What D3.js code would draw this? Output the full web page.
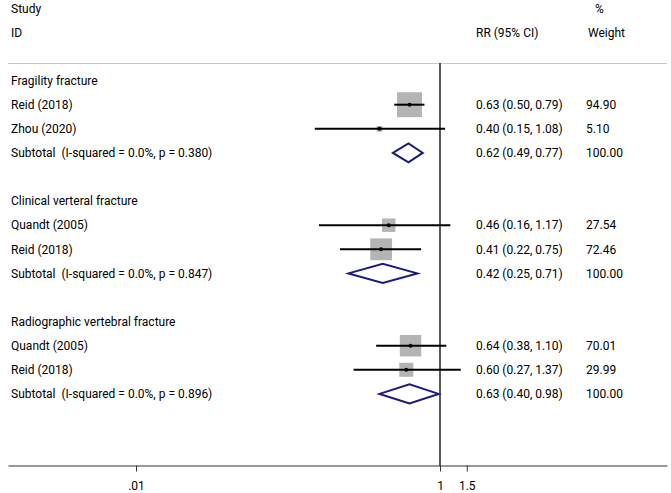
<!DOCTYPE html>
<html>
<head>
<meta charset="utf-8">
<script src="https://cdn.jsdelivr.net/npm/d3@7"></script>
<style>
  body { margin: 0; background: #fff; }
  text { font-family: Roboto, "Liberation Sans", sans-serif; font-size: 12px; fill: #000; }
</style>
</head>
<body>
<div id="chart"></div>
<script>
// forest plot data
var groups = ["Fragility fracture", "Clinical verteral fracture", "Radiographic vertebral fracture"];
var studyNames = ["Reid (2018)", "Zhou (2020)", "Quandt (2005)", "Reid (2018)", "Quandt (2005)", "Reid (2018)"];
var studyGroup = [0, 0, 1, 1, 2, 2];
var studyRR = [0.63, 0.40, 0.46, 0.41, 0.64, 0.60];
var studyLow = [0.50, 0.15, 0.16, 0.22, 0.38, 0.27];
var studyHigh = [0.79, 1.08, 1.17, 0.75, 1.10, 1.37];
var studyWeight = ["94.90", "5.10", "27.54", "72.46", "70.01", "29.99"];

var subRR = [0.62, 0.42, 0.63];
var subLow = [0.49, 0.25, 0.40];
var subHigh = [0.77, 0.71, 0.98];
var subI2 = ["0.0%", "0.0%", "0.0%"];
var subP = ["0.380", "0.847", "0.896"];

var tickValues = [0.01, 1, 1.5];
var tickLabels = [".01", "1", "1.5"];

var width = 671, height = 493;

var svg = d3.select("#chart").append("svg")
  .attr("width", width)
  .attr("height", height);

// log scale: 1 sits on the no-effect line, .01 far to the left
var x = d3.scaleLog().domain([0.01, 1]).range([136, 440]);
x.domain([x.invert(8), x.invert(667)]).range([8, 667]);

// row positions
var row = d3.scaleLinear().domain([0, 1]).range([8.3, 32.4]);
var boxSize = d3.scaleSqrt().domain([0, 100]).range([0, 25.6]);

// build the row list (heading, studies, subtotal for every group)
var rows = [];
var r = 3;
groups.forEach(function(g, gi) {
  rows.push({type: "head", label: g, row: r});
  r++;
  studyNames.forEach(function(name, i) {
    if (studyGroup[i] != gi) return;
    rows.push({type: "study", label: name, row: r, rr: studyRR[i], lo: studyLow[i], hi: studyHigh[i], w: studyWeight[i]});
    r++;
  });
  rows.push({type: "sub", label: "Subtotal\u00a0 (I-squared = " + subI2[gi] + ", p = " + subP[gi] + ")", row: r,
    rr: subRR[gi], lo: subLow[gi], hi: subHigh[gi], w: "100.00"});
  r += 2;
});

// header
svg.append("text").attr("x", 11).attr("y", row(0)).attr("dy", "0.35em").text("Study");
svg.append("text").attr("x", 11).attr("y", row(1)).attr("dy", "0.35em").text("ID");
svg.append("text").attr("x", 476).attr("y", row(1)).attr("dy", "0.35em").text("RR (95% CI)");
svg.append("text").attr("x", 595).attr("y", row(0)).attr("dy", "0.35em").text("%");
svg.append("text").attr("x", 588).attr("y", row(1)).attr("dy", "0.35em").text("Weight");

svg.append("line")
  .attr("x1", 8).attr("x2", 667)
  .attr("y1", 63.5).attr("y2", 63.5)
  .attr("stroke", "#c8c8c8").attr("stroke-width", 1);

// no-effect line
svg.append("line")
  .attr("x1", x(1)).attr("x2", x(1))
  .attr("y1", 63).attr("y2", 466)
  .attr("stroke", "#000").attr("stroke-width", 1.3);

// left labels
svg.selectAll(".lab")
  .data(rows)
  .enter().append("text")
  .attr("class", "lab")
  .attr("x", 11)
  .attr("y", function(d) { return row(d.row); })
  .attr("dy", "0.35em")
  .text(function(d) { return d.label; });

var est = rows.filter(function(d) { return d.type != "head"; });

svg.selectAll(".ci")
  .data(est)
  .enter().append("text")
  .attr("class", "ci")
  .attr("x", 476)
  .attr("y", function(d) { return row(d.row); })
  .attr("dy", "0.35em")
  .text(function(d) { return d.rr.toFixed(2) + " (" + d.lo.toFixed(2) + ", " + d.hi.toFixed(2) + ")"; });

svg.selectAll(".wt")
  .data(est)
  .enter().append("text")
  .attr("class", "wt")
  .attr("x", 586)
  .attr("y", function(d) { return row(d.row); })
  .attr("dy", "0.35em")
  .text(function(d) { return d.w; });

var studies = rows.filter(function(d) { return d.type == "study"; });

// weight boxes
svg.selectAll(".box")
  .data(studies)
  .enter().append("rect")
  .attr("class", "box")
  .attr("x", function(d) { return x(d.rr) - boxSize(+d.w) / 2; })
  .attr("y", function(d) { return row(d.row) - boxSize(+d.w) / 2; })
  .attr("width", function(d) { return boxSize(+d.w); })
  .attr("height", function(d) { return boxSize(+d.w); })
  .attr("fill", "#b4b4b4");

// confidence intervals
svg.selectAll(".cil")
  .data(studies)
  .enter().append("line")
  .attr("class", "cil")
  .attr("x1", function(d) { return x(d.lo); })
  .attr("x2", function(d) { return x(d.hi); })
  .attr("y1", function(d) { return row(d.row); })
  .attr("y2", function(d) { return row(d.row); })
  .attr("stroke", "#000").attr("stroke-width", 2);

svg.selectAll(".pt")
  .data(studies)
  .enter().append("circle")
  .attr("class", "pt")
  .attr("cx", function(d) { return x(d.rr); })
  .attr("cy", function(d) { return row(d.row); })
  .attr("r", 2)
  .attr("fill", "#000");

// subtotal diamonds
svg.selectAll(".dia")
  .data(rows.filter(function(d) { return d.type == "sub"; }))
  .enter().append("path")
  .attr("class", "dia")
  .attr("d", function(d) {
    var y = row(d.row);
    return "M" + x(d.lo) + "," + y + "L" + x(d.rr) + "," + (y - 9.5) +
      "L" + x(d.hi) + "," + y + "L" + x(d.rr) + "," + (y + 9.5) + "Z";
  })
  .attr("fill", "#fff")
  .attr("stroke", "#1a1a80")
  .attr("stroke-width", 2);

// x axis
var axis = d3.axisBottom(x)
  .tickValues(tickValues)
  .tickFormat(function(d, i) { return tickLabels[i]; })
  .tickSize(6)
  .tickSizeOuter(0);

var g = svg.append("g")
  .attr("transform", "translate(0,465.5)")
  .call(axis);
g.select(".domain").attr("stroke", "#333");
g.selectAll(".tick line").attr("stroke", "#333");
g.selectAll(".tick text")
  .attr("dy", "0.35em")
  .attr("y", 20)
  .style("font-family", "Roboto, sans-serif")
  .style("font-size", "12px")
  .attr("fill", "#000");
</script>
</body>
</html>
